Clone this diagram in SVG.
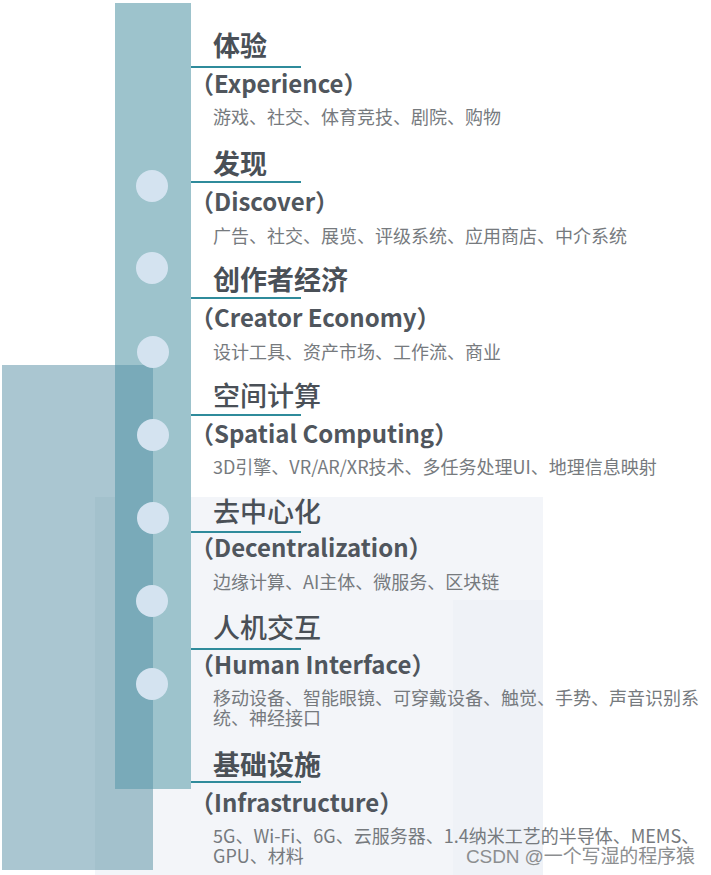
<svg xmlns="http://www.w3.org/2000/svg" width="711" height="875" viewBox="0 0 711 875">
<style>
.t{font-family:"Noto Sans CJK SC","Noto Sans",sans-serif;font-size:27px;font-weight:700;fill:#4a5057}
.tm{font-weight:500}
.s{font-family:"Noto Sans CJK SC","Noto Sans",sans-serif;font-size:24px;font-weight:700;fill:#50565d}
.d{font-family:"Noto Sans CJK SC","Noto Sans",sans-serif;font-size:18px;fill:#767a7e}
.ln{stroke:#2f8b9b;stroke-width:2}
.dot{fill:#d4e3f0}
</style>
<rect width="711" height="875" fill="#ffffff"/>
<g id="background">
<rect x="95" y="497" width="448" height="378" fill="#f3f5f9"/>
<rect x="453" y="600" width="90" height="275" fill="#eff2f7"/>
<rect x="2" y="365" width="151" height="505" fill="#aac6d1"/>
<rect x="95" y="497" width="58" height="373" fill="#a3c1cc"/>
<rect x="115" y="3" width="76" height="786" fill="#9dc3cc"/>
<rect x="115" y="365" width="38" height="424" fill="#79aab9"/>
</g>
<g id="connectors">
<line class="ln" x1="191" y1="67" x2="301" y2="67"/>
<line class="ln" x1="191" y1="182" x2="301" y2="182"/>
<line class="ln" x1="191" y1="298" x2="301" y2="298"/>
<line class="ln" x1="191" y1="415" x2="301" y2="415"/>
<line class="ln" x1="191" y1="532" x2="301" y2="532"/>
<line class="ln" x1="191" y1="649" x2="301" y2="649"/>
<line class="ln" x1="191" y1="782" x2="301" y2="782"/>
</g>
<g id="dots">
<circle class="dot" cx="152" cy="186" r="16"/>
<circle class="dot" cx="152" cy="268" r="16"/>
<circle class="dot" cx="153" cy="352" r="16"/>
<circle class="dot" cx="153" cy="435" r="16"/>
<circle class="dot" cx="153" cy="518" r="16"/>
<circle class="dot" cx="152" cy="601" r="16"/>
<circle class="dot" cx="152" cy="684" r="16"/>
</g>
<g id="experience">
<text class="t" x="213" y="56">体验</text>
<text class="s" x="190" y="93">（Experience）</text>
<text class="d" x="213" y="124">游戏、社交、体育竞技、剧院、购物</text>
</g>
<g id="discover">
<text class="t" x="213" y="174">发现</text>
<text class="s" x="190" y="211">（Discover）</text>
<text class="d" x="213" y="243">广告、社交、展览、评级系统、应用商店、中介系统</text>
</g>
<g id="creator">
<text class="t" x="213" y="290">创作者经济</text>
<text class="s" x="190" y="327">（Creator Economy）</text>
<text class="d" x="213" y="359">设计工具、资产市场、工作流、商业</text>
</g>
<g id="spatial">
<text class="t tm" x="213" y="406">空间计算</text>
<text class="s" x="190" y="443">（Spatial Computing）</text>
<text class="d" x="213" y="474">3D引擎、VR/AR/XR技术、多任务处理UI、地理信息映射</text>
</g>
<g id="decentralization">
<text class="t tm" x="213" y="522">去中心化</text>
<text class="s" x="190" y="557">（Decentralization）</text>
<text class="d" x="213" y="589">边缘计算、AI主体、微服务、区块链</text>
</g>
<g id="human">
<text class="t tm" x="213" y="638">人机交互</text>
<text class="s" x="190" y="674">（Human Interface）</text>
<text class="d" x="213" y="705">移动设备、智能眼镜、可穿戴设备、触觉、手势、声音识别系</text>
<text class="d" x="213" y="725">统、神经接口</text>
</g>
<g id="infrastructure">
<text class="t" x="213" y="775">基础设施</text>
<text class="s" x="190" y="812">（Infrastructure）</text>
<text class="d" x="213" y="843">5G、Wi-Fi、6G、云服务器、1.4纳米工艺的半导体、MEMS、</text>
<text class="d" x="213" y="863">GPU、材料</text>
</g>
<g id="watermark">
<text x="466" y="863" textLength="229" font-family="Liberation Sans,Noto Sans CJK SC,sans-serif" font-size="19" fill="#8c8e90">CSDN @一个写湿的程序猿</text>
</g>
</svg>
